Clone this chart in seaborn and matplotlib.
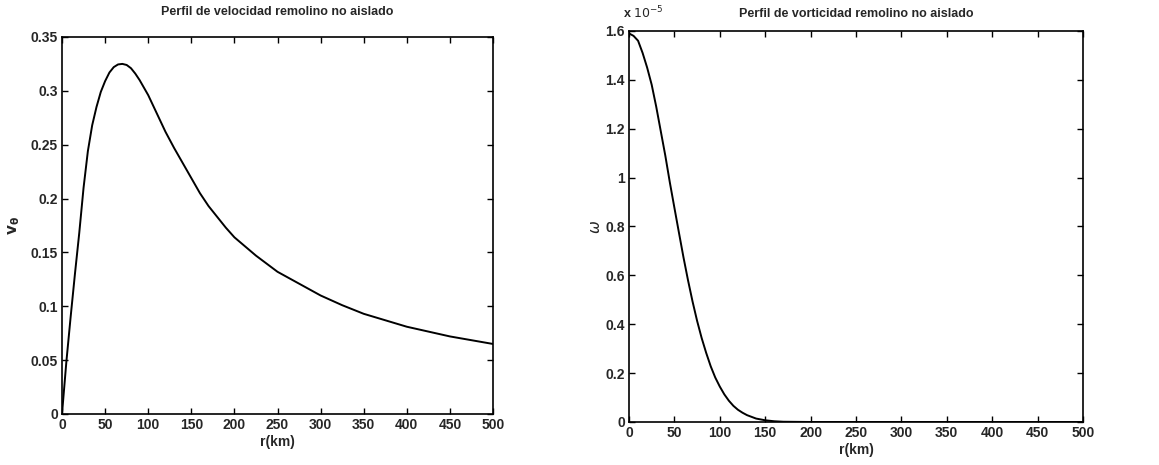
import numpy as np
import pandas as pd
import matplotlib
matplotlib.use("Agg")
import matplotlib.pyplot as plt
import seaborn as sns

# ---- data ----
r_vel = [0, 5, 10, 15, 20, 25, 30, 35, 40, 45, 50, 55, 60, 65, 70, 75, 80, 85, 90, 95, 100,
         110, 120, 130, 140, 150, 160, 170, 180, 190, 200, 225, 250, 275, 300, 325, 350, 375,
         400, 450, 500]
v_theta = [0.0, 0.048, 0.090, 0.130, 0.168, 0.210, 0.244, 0.268, 0.285, 0.299, 0.309, 0.317,
           0.322, 0.3245, 0.325, 0.324, 0.321, 0.316, 0.310, 0.303, 0.296, 0.279, 0.262, 0.247,
           0.233, 0.219, 0.205, 0.193, 0.183, 0.173, 0.164, 0.147, 0.132, 0.121, 0.110, 0.101,
           0.093, 0.087, 0.081, 0.072, 0.065]

r_vort = [0, 5, 10, 15, 20, 25, 30, 35, 40, 45, 50, 55, 60, 65, 70, 75, 80, 85, 90, 95, 100,
          105, 110, 115, 120, 125, 130, 140, 150, 160, 170, 200, 250, 300, 350, 400, 450, 500]
omega_e5 = [1.59, 1.58, 1.56, 1.51, 1.45, 1.38, 1.29, 1.19, 1.09, 0.98, 0.877, 0.775, 0.674,
            0.58, 0.493, 0.414, 0.344, 0.283, 0.228, 0.182, 0.145, 0.113, 0.087, 0.066, 0.050,
            0.038, 0.028, 0.014, 0.007, 0.003, 0.001, 0.0, 0.0, 0.0, 0.0, 0.0, 0.0, 0.0]

x_ticks = [0, 50, 100, 150, 200, 250, 300, 350, 400, 450, 500]
y_ticks_left = [0, 0.05, 0.1, 0.15, 0.2, 0.25, 0.3, 0.35]
y_ticks_right = [0, 0.2, 0.4, 0.6, 0.8, 1, 1.2, 1.4, 1.6]

title_left = "Perfil de velocidad remolino no aislado"
title_right = "Perfil de vorticidad remolino no aislado"

sns.set_style("ticks")
plt.rcParams["font.family"] = ["Liberation Sans", "DejaVu Sans"]

fig = plt.figure(figsize=(11.59, 4.65), dpi=100)
axL = fig.add_axes([0.0535, 0.1097, 0.3719, 0.8108])
axR = fig.add_axes([0.5427, 0.0925, 0.3917, 0.8409])

df_v = pd.DataFrame({"r": r_vel, "v": v_theta})
df_w = pd.DataFrame({"r": r_vort, "w": omega_e5})

sns.lineplot(data=df_v, x="r", y="v", ax=axL, color="black", linewidth=1.4)
sns.lineplot(data=df_w, x="r", y="w", ax=axR, color="black", linewidth=1.4)

def fmt(v):
    return f"{v:g}"

for ax, yt, ylim in [(axL, y_ticks_left, (0, 0.35)), (axR, y_ticks_right, (0, 1.6))]:
    ax.set_xlim(0, 500)
    ax.set_ylim(*ylim)
    ax.set_xticks(x_ticks)
    ax.set_xticklabels([fmt(t) for t in x_ticks])
    ax.set_yticks(yt)
    ax.set_yticklabels([fmt(t) for t in yt])
    ax.tick_params(direction="in", top=True, right=True, length=4, width=1,
                   labelsize=10, pad=3, color="black")
    for lab in ax.get_xticklabels() + ax.get_yticklabels():
        lab.set_fontweight("bold")
    for sp in ax.spines.values():
        sp.set_visible(True)
        sp.set_linewidth(1.2)
        sp.set_color("black")
    ax.set_xlabel("r(km)", fontsize=10, fontweight="bold", labelpad=2)

axL.set_title(title_left, fontsize=9, fontweight="bold", pad=16)
axR.set_title(title_right, fontsize=9, fontweight="bold", pad=10)
axL.set_ylabel(r"$\mathbf{v_\theta}$", fontsize=11, labelpad=6)
axR.set_ylabel(r"$\omega$", fontsize=11, labelpad=2)
axR.text(-0.013, 1.025, r"x $10^{-5}$", transform=axR.transAxes, fontsize=9,
         fontweight="bold", ha="left", va="bottom")

fig.savefig("out.png", dpi=100, facecolor="white")
